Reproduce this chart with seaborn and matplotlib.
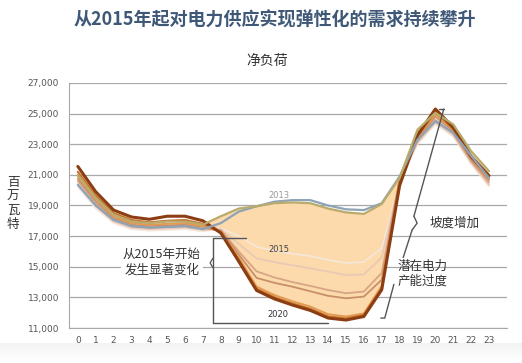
import numpy as np
import pandas as pd
import matplotlib
matplotlib.use("Agg")
import matplotlib.pyplot as plt
import seaborn as sns

hours = list(range(24))
years = [2012, 2013, 2014, 2015, 2016, 2017, 2018, 2019, 2020]

load_2012 = [20350, 19000, 18050, 17650, 17550, 17600, 17650, 17450,
             17850, 18600, 18950, 19250, 19350, 19350, 19000, 18750, 18700, 19150,
             20900, 23300, 24500, 23750, 22250, 20800]
load_2013 = [21000, 19500, 18400, 17950, 17850, 17950, 17950, 17750,
             18300, 18800, 18950, 19150, 19200, 19150, 18800, 18550, 18450, 19100,
             20800, 23950, 25050, 24300, 22550, 21250]
load_2014 = [20200, 18800, 17850, 17450, 17350, 17400, 17450, 17300,
             17500, 17000, 16300, 16050, 15850, 15700, 15450, 15250, 15300, 16200,
             20500, 23000, 24300, 23500, 21700, 20250]
load_2015 = [20400, 18950, 17950, 17550, 17450, 17500, 17550, 17400,
             17450, 16500, 15550, 15300, 15100, 14900, 14680, 14460, 14500, 15600,
             20600, 23100, 24400, 23600, 21800, 20350]
load_2016 = [20600, 19150, 18100, 17650, 17550, 17600, 17650, 17500,
             17400, 16000, 14700, 14300, 14000, 13750, 13480, 13270, 13380, 14600,
             20700, 23200, 24600, 23700, 21900, 20500]
load_2017 = [20750, 19300, 18200, 17750, 17650, 17700, 17750, 17600,
             17350, 15800, 14270, 13950, 13700, 13400, 13100, 12940, 13050, 14150,
             20700, 23300, 24800, 23850, 22000, 20650]
load_2018 = [20900, 19450, 18300, 17850, 17750, 17800, 17850, 17650,
             17300, 15600, 13700, 13150, 12750, 12400, 11900, 11750, 11950, 13750,
             20600, 23400, 24950, 23950, 22100, 20750]
load_2019 = [21200, 19650, 18500, 18050, 17900, 18000, 18050, 17800,
             17250, 15450, 13550, 13000, 12600, 12250, 11750, 11620, 11850, 13600,
             20500, 23500, 25150, 24000, 22150, 20850]
load_2020 = [21550, 19900, 18700, 18250, 18100, 18300, 18300, 18000,
             17200, 15350, 13450, 12900, 12500, 12150, 11650, 11520, 11750, 13500,
             20300, 23600, 25300, 24100, 22200, 20950]

all_loads = [load_2012, load_2013, load_2014, load_2015, load_2016,
             load_2017, load_2018, load_2019, load_2020]

yticks = [11000, 13000, 15000, 17000, 19000, 21000, 23000, 25000, 27000]

palette = {2012: "#8fa3b6", 2013: "#b9ab6c", 2014: "#f6e7dc", 2015: "#e9c9b6",
           2016: "#d8a486", 2017: "#c88f6a", 2018: "#e39a52", 2019: "#c8742f",
           2020: "#8c3d12"}
widths = {2012: 1.6, 2013: 1.6, 2014: 1.2, 2015: 1.3, 2016: 1.3, 2017: 1.3,
          2018: 1.4, 2019: 1.6, 2020: 2.2}
draw_order = [2014, 2015, 2016, 2017, 2018, 2019, 2020, 2012, 2013]

df = pd.DataFrame({
    "hour": np.tile(hours, len(years)),
    "year": np.repeat(years, 24),
    "load": np.concatenate(all_loads),
})

cjk = ["Noto Sans CJK SC", "DejaVu Sans"]

sns.set_style("white")
plt.rcParams["font.family"] = ["DejaVu Sans"]

fig = plt.figure(figsize=(5.22, 3.63), dpi=100)
ax = fig.add_axes([0.132, 0.0964, 0.839, 0.675])

# faint grey band along bottom edge
bg = fig.add_axes([0, 0, 1, 0.055], zorder=-5)
bg.imshow(np.linspace(1, 0, 20).reshape(-1, 1), aspect="auto", cmap="Greys",
          vmin=0, vmax=10, extent=[0, 1, 0, 1])
bg.axis("off")

ax.fill_between(hours, load_2013, load_2020,
                where=np.array(load_2013) >= np.array(load_2020),
                interpolate=True, color="#fcdaab", lw=0, zorder=1)

for yr in draw_order:
    sns.lineplot(data=df[df["year"] == yr], x="hour", y="load", ax=ax,
                 color=palette[yr], lw=widths[yr], zorder=3, legend=False)

ax.set_xlim(-0.5, 24.0)
ax.set_ylim(11000, 27000)
ax.set_yticks(yticks)
ax.set_yticklabels([f"{v:,}" for v in yticks], fontsize=6.5, color="#555555")
ax.set_xticks(hours)
ax.set_xticklabels([str(h) for h in hours], fontsize=6.5, color="#555555")
ax.set_xticks(np.arange(-0.5, 24, 1.0), minor=True)
ax.tick_params(axis="x", which="major", length=0, pad=6)
ax.tick_params(axis="x", which="minor", length=3, color="#999999", direction="in")
ax.tick_params(axis="y", length=4, color="#999999", pad=3)
ax.grid(axis="y", color="#a8a8a8", lw=0.9, zorder=0)
ax.set_axisbelow(True)
for s in ["top", "right"]:
    ax.spines[s].set_visible(False)
ax.spines["left"].set_color("#a8a8a8")
ax.spines["bottom"].set_color("#a8a8a8")
ax.set_xlabel("")
ax.set_ylabel("")

# year labels
ax.text(11.25, 19650, "2013", fontsize=6, color="#9a9a9a", ha="center", va="center", zorder=4)
ax.text(11.25, 16150, "2015", fontsize=6, color="#444444", ha="center", va="center", zorder=4)
ax.text(11.2, 11850, "2020", fontsize=6, color="#333333", ha="center", va="center", zorder=4)

# bracket for the midday change
bk = "#555555"
ax.plot([7.55, 9.4], [16900, 16900], color=bk, lw=1, zorder=5)
ax.plot([7.55, 7.55], [16900, 11350], color=bk, lw=1, zorder=5)
ax.plot([7.55, 14.0], [11350, 11350], color=bk, lw=1, zorder=5)
ax.plot([7.55, 7.4, 7.55], [15550, 15250, 14950], color=bk, lw=0.9, zorder=5)
ax.text(4.7, 15280, "从2015年开始\n发生显著变化", family=cjk, fontsize=9,
        color="#333333", ha="center", va="center", linespacing=1.25, zorder=5,
        bbox=dict(facecolor="white", edgecolor="none", pad=1.5))

# ramp line
ax.plot([20.2, 20.47], [25300, 25300], color=bk, lw=1, zorder=5)
ax.plot([20.47, 18.8], [25300, 18300], color=bk, lw=1, zorder=5)
ax.plot([18.8, 18.98, 18.7], [18300, 17850, 17400], color=bk, lw=1, zorder=5)
ax.plot([18.7, 18.2], [17400, 15600], color=bk, lw=1, zorder=5)
ax.text(19.7, 17850, "坡度增加", family=cjk, fontsize=9, color="#333333",
        ha="left", va="center", zorder=5)

# overgeneration line
ax.plot([17.68, 17.17, 16.95], [13850, 11650, 11650], color=bk, lw=1, zorder=5)
ax.text(17.9, 14550, "潜在电力\n产能过度", family=cjk, fontsize=9, color="#333333",
        ha="left", va="center", linespacing=1.25, zorder=5)

fig.text(0.527, 0.945, "从2015年起对电力供应实现弹性化的需求持续攀升", family=cjk,
         fontsize=13, fontweight="bold", color="#3f5877", ha="center", va="center")
fig.text(0.511, 0.832, "净负荷", family=cjk, fontsize=10, color="#333333",
         ha="center", va="center")
fig.text(0.025, 0.44, "百\n万\n瓦\n特", family=cjk, fontsize=9, color="#333333",
         ha="center", va="center", linespacing=1.1)

fig.savefig("out.png", dpi=100)
